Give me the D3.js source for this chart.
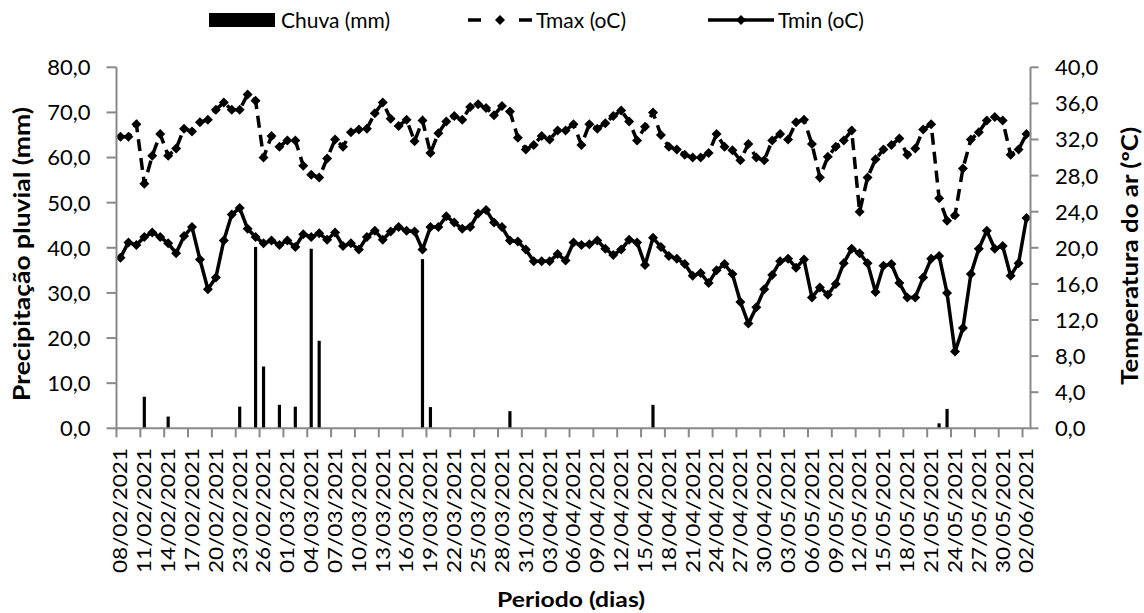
<!DOCTYPE html>
<html>
<head>
<meta charset="utf-8">
<script src="https://cdn.jsdelivr.net/npm/d3@7"></script>
<style>
  html, body { margin: 0; padding: 0; background: #fff; }
  svg { display: block; font-family: Lato, "Liberation Sans", sans-serif; }
</style>
</head>
<body>
<svg id="chart" width="1144" height="613"></svg>
<script>
// ---------- DATA ----------
const startDate = "2021-02-08";
const endDate = "2021-06-02";

// rainfall (mm) per day, index 0 = 08/02/2021
const chuva = [
  0, 0, 0, 7.0, 0, 0, 2.6, 0, 0, 0,
  0, 0, 0, 0, 0, 4.8, 0, 40.2, 13.7, 0,
  5.2, 0, 4.8, 0, 39.8, 19.4, 0, 0, 0, 0,
  0, 0, 0, 0, 0, 0, 0, 0, 37.5, 4.7,
  0, 0, 0, 0, 0, 0, 0, 0, 0, 3.8,
  0, 0, 0, 0, 0, 0, 0, 0, 0, 0,
  0, 0, 0, 0, 0, 0, 0, 5.2, 0, 0,
  0, 0, 0, 0, 0, 0, 0, 0, 0, 0,
  0, 0, 0, 0, 0, 0, 0, 0, 0, 0,
  0, 0, 0, 0, 0, 0, 0, 0, 0, 0,
  0, 0, 0, 1.1, 4.3, 0, 0, 0, 0, 0,
  0, 0, 0, 0, 0
];

// maximum air temperature (°C)
const tmax = [
  32.3, 32.3, 33.7, 27.1, 30.2, 32.6, 30.2, 31.0, 33.2, 32.9,
  33.9, 34.2, 35.3, 36.1, 35.3, 35.3, 37.0, 36.3, 30.0, 32.4,
  31.2, 31.9, 31.9, 29.1, 28.1, 27.8, 29.9, 32.0, 31.2, 32.8,
  33.1, 33.2, 34.9, 36.1, 34.3, 33.5, 34.2, 31.8, 34.1, 30.5,
  32.7, 34.0, 34.6, 34.2, 35.6, 35.9, 35.5, 34.7, 35.7, 35.1,
  32.2, 30.9, 31.4, 32.4, 32.0, 33.0, 33.0, 33.7, 31.4, 33.7,
  33.2, 33.8, 34.6, 35.2, 34.0, 31.9, 33.4, 35.0, 32.5, 31.2,
  30.9, 30.3, 30.0, 30.0, 30.5, 32.6, 31.2, 30.8, 29.7, 31.5,
  30.0, 29.7, 31.9, 32.6, 32.0, 33.9, 34.2, 31.5, 27.8, 30.1,
  31.2, 31.9, 33.0, 24.0, 27.8, 29.8, 30.9, 31.4, 32.1, 30.3,
  31.0, 33.1, 33.7, 25.5, 23.0, 23.6, 28.8, 32.0, 32.8, 34.1,
  34.5, 34.1, 30.3, 30.9, 32.6
];

// minimum air temperature (°C)
const tmin = [
  18.9, 20.6, 20.3, 21.2, 21.7, 21.2, 20.5, 19.4, 21.3, 22.3,
  18.7, 15.4, 16.7, 20.8, 23.7, 24.4, 22.1, 21.2, 20.5, 20.8,
  20.3, 20.8, 20.1, 21.5, 21.2, 21.6, 20.9, 21.7, 20.2, 20.5,
  19.8, 21.2, 21.9, 20.9, 21.8, 22.3, 21.9, 21.8, 19.8, 22.3,
  22.3, 23.5, 22.8, 22.1, 22.3, 23.8, 24.2, 22.8, 22.3, 20.8,
  20.7, 19.8, 18.5, 18.5, 18.5, 19.3, 18.6, 20.6, 20.3, 20.4,
  20.8, 19.9, 19.2, 19.8, 20.9, 20.6, 18.1, 21.1, 20.1, 19.1,
  18.8, 18.2, 16.9, 17.2, 16.1, 17.5, 18.2, 17.1, 14.0, 11.6,
  13.4, 15.4, 17.0, 18.5, 18.8, 17.8, 18.7, 14.5, 15.6, 14.8,
  16.0, 18.3, 19.9, 19.4, 18.3, 15.1, 18.0, 18.2, 16.1, 14.5,
  14.5, 16.7, 18.8, 19.1, 15.0, 8.5, 11.1, 17.1, 19.9, 21.9,
  19.9, 20.2, 16.9, 18.3, 23.3
];

const leftTicks = [0, 10, 20, 30, 40, 50, 60, 70, 80];
const rightTicks = [0, 4, 8, 12, 16, 20, 24, 28, 32, 36, 40];
const labelEvery = 3;

const legendNames = ["Chuva (mm)", "Tmax (oC)", "Tmin (oC)"];
const leftTitle = "Precipitação  pluvial  (mm)";
const rightTitle = "Temperatura do ar (ºC)";
const xTitle = "Periodo (dias)";

// ---------- CATEGORIES ----------
const fmt = d3.timeFormat("%d/%m/%Y");
const parse = d3.timeParse("%Y-%m-%d");
const days = d3.timeDay.range(parse(startDate), d3.timeDay.offset(parse(endDate), 1));
const categories = days.map(fmt);

// ---------- LAYOUT ----------
const svg = d3.select("#chart");
const L = 116.5, R = 1030.5, T = 67.3, B = 428.3;
const axisColor = "#898989";

const x = d3.scaleBand().domain(d3.range(categories.length)).range([L, R]).paddingInner(0).paddingOuter(0);
const yL = d3.scaleLinear().domain([0, 80]).range([B, T]);
const yR = d3.scaleLinear().domain([0, 40]).range([B, T]);
const cx = i => x(i) + x.bandwidth() / 2;

// ---------- BARS ----------
const barW = x.bandwidth() * 0.4;
svg.append("g").selectAll("rect")
  .data(chuva.map((v, i) => ({ v, i })).filter(d => d.v > 0))
  .join("rect")
  .attr("x", d => cx(d.i) - barW / 2)
  .attr("width", barW)
  .attr("y", d => yL(d.v))
  .attr("height", d => yL(0) - yL(d.v))
  .attr("fill", "#000");

// ---------- LINES ----------
const diamond = r => `M0,${-r}L${r},0L0,${r}L${-r},0Z`;
const lineR = d3.line().x((d, i) => cx(i)).y(d => yR(d));

svg.append("path").datum(tmax)
  .attr("d", lineR)
  .attr("fill", "none").attr("stroke", "#000")
  .attr("stroke-width", 3.5).attr("stroke-dasharray", "12,7");
svg.append("path").datum(tmin)
  .attr("d", lineR)
  .attr("fill", "none").attr("stroke", "#000")
  .attr("stroke-width", 3.5).attr("stroke-linejoin", "round");

[tmax, tmin].forEach(series => {
  svg.append("g").selectAll("path")
    .data(series)
    .join("path")
    .attr("d", diamond(5))
    .attr("transform", (d, i) => `translate(${cx(i)},${yR(d)})`)
    .attr("fill", "#000");
});

// ---------- AXES ----------
const gAx = svg.append("g").attr("stroke", axisColor).attr("stroke-width", 2).attr("fill", "none");
gAx.append("line").attr("x1", L).attr("x2", L).attr("y1", T).attr("y2", B + 1);
gAx.selectAll(".lt").data(leftTicks).join("line")
  .attr("x1", L - 10).attr("x2", L).attr("y1", d => yL(d)).attr("y2", d => yL(d));
gAx.append("line").attr("x1", R).attr("x2", R).attr("y1", T).attr("y2", B + 1);
gAx.selectAll(".rt").data(rightTicks).join("line")
  .attr("x1", R).attr("x2", R + 8).attr("y1", d => yR(d)).attr("y2", d => yR(d));
gAx.append("line").attr("x1", L).attr("x2", R).attr("y1", B).attr("y2", B);
const tickIdx = d3.range(0, categories.length, labelEvery);
gAx.selectAll(".bt").data(tickIdx).join("line")
  .attr("x1", d => x(d)).attr("x2", d => x(d)).attr("y1", B).attr("y2", B + 9);

const numFmt = v => d3.format(".1f")(v).replace(".", ",");

svg.append("g").selectAll("text").data(leftTicks).join("text")
  .attr("x", 90.5).attr("y", d => yL(d)).attr("dy", "0.36em")
  .attr("text-anchor", "end").attr("font-size", 22).attr("fill", "#000")
  .text(numFmt);

svg.append("g").selectAll("text").data(rightTicks).join("text")
  .attr("x", 1055).attr("y", d => yR(d)).attr("dy", "0.36em")
  .attr("text-anchor", "start").attr("font-size", 22).attr("fill", "#000")
  .text(numFmt);

svg.append("g").selectAll("text").data(tickIdx).join("text")
  .attr("transform", d => `translate(${cx(d)},448) rotate(-90)`)
  .attr("dy", "0.36em")
  .attr("text-anchor", "end").attr("font-size", 19).attr("fill", "#000")
  .attr("textLength", 125).attr("lengthAdjust", "spacingAndGlyphs")
  .text(d => categories[d]);

// ---------- TITLES ----------
svg.append("text")
  .attr("transform", "translate(30,254) rotate(-90)")
  .attr("text-anchor", "middle").attr("font-size", 22).attr("font-weight", "bold")
  .attr("textLength", 294).attr("lengthAdjust", "spacingAndGlyphs")
  .text(leftTitle);

svg.append("text")
  .attr("transform", "translate(1138,256) rotate(-90)")
  .attr("text-anchor", "middle").attr("font-size", 22).attr("font-weight", "bold")
  .attr("textLength", 258).attr("lengthAdjust", "spacingAndGlyphs")
  .text(rightTitle);

svg.append("text")
  .attr("x", 571).attr("y", 607)
  .attr("text-anchor", "middle").attr("font-size", 20).attr("font-weight", "bold")
  .attr("textLength", 148).attr("lengthAdjust", "spacingAndGlyphs")
  .text(xTitle);

// ---------- LEGEND ----------
const lg = svg.append("g");
const ly = 20;
lg.append("rect").attr("x", 209).attr("y", ly - 7).attr("width", 66).attr("height", 14).attr("fill", "#000");
lg.append("text").attr("x", 281).attr("y", ly).attr("dy", "0.36em").attr("font-size", 21).text(legendNames[0]);

[[468, 481], [519, 532]].forEach(([a, b]) => {
  lg.append("line").attr("x1", a).attr("x2", b).attr("y1", ly).attr("y2", ly)
    .attr("stroke", "#000").attr("stroke-width", 3.5);
});
lg.append("path").attr("d", diamond(5)).attr("transform", `translate(500,${ly})`).attr("fill", "#000");
lg.append("text").attr("x", 536).attr("y", ly).attr("dy", "0.36em").attr("font-size", 21).text(legendNames[1]);

lg.append("line").attr("x1", 708).attr("x2", 774).attr("y1", ly).attr("y2", ly)
  .attr("stroke", "#000").attr("stroke-width", 3.5);
lg.append("path").attr("d", diamond(5)).attr("transform", `translate(741,${ly})`).attr("fill", "#000");
lg.append("text").attr("x", 778).attr("y", ly).attr("dy", "0.36em").attr("font-size", 21).text(legendNames[2]);
</script>
</body>
</html>
